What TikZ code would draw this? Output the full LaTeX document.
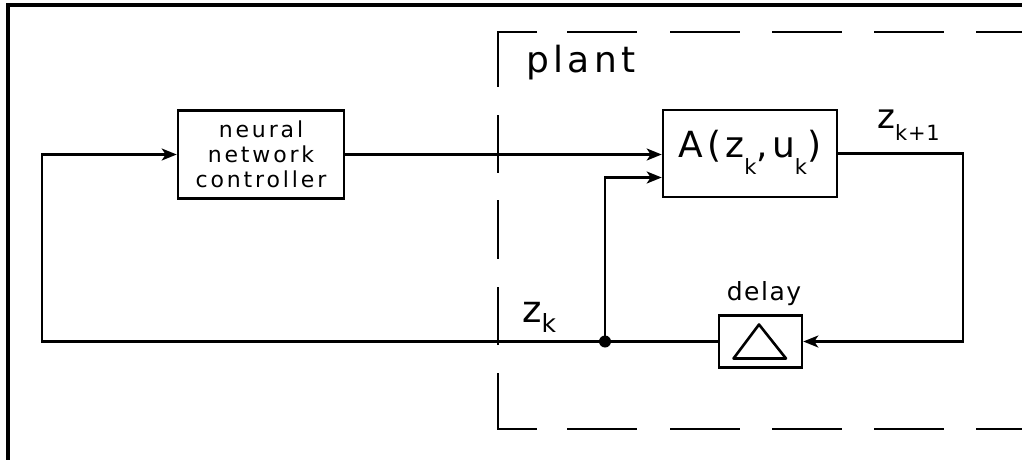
\documentclass[tikz,border=0pt]{standalone}
\usepackage{fontspec}
\usetikzlibrary{arrows.meta,calc}
\newfontfamily\pf{DejaVu Sans}
\newcommand\pfs[3]{\pf\addfontfeature{LetterSpace=#3}\fontsize{#1}{#2}\selectfont}
\newcommand\mysb[3]{\raisebox{-#2}{\fontsize{#1}{#1}\selectfont #3}}
\begin{document}
\begin{tikzpicture}[x=1pt,y=-1pt,
  blk/.style={draw,line width=2.6pt,inner sep=0pt},
  conn/.style={line width=2.4pt},
  arr/.style={conn,-{Stealth[length=15pt,width=12pt,inset=4pt]}},
  frame/.style={line width=3.4pt},
  plantbox/.style={line width=2.5pt},
  lbl/.style={inner sep=0pt}]
\useasboundingbox (0,0) rectangle (1022,460);
% outer frame
\draw[frame] (8,460) -- (8,5) -- (1022,5);
% plant dashed boundary
\draw[plantbox] (537,32) -- (498,32) -- (498,87);
\draw[plantbox] (498,373) -- (498,429) -- (537,429);
\foreach \a/\b in {115/173,200/259,287/345} \draw[plantbox] (498,\a) -- (498,\b);
\foreach \a/\b in {567/637,670/740,772/842,874/944,976/1022} {
  \draw[plantbox] (\a,32) -- (\b,32);
  \draw[plantbox] (\a,429) -- (\b,429);
}
\node[lbl,anchor=base west,font=\pfs{36}{36}{12}] (plant) at (526,73) {plant};
% blocks
\node[blk,minimum width=166pt,minimum height=88pt,align=center,
      font=\pfs{22}{25}{13}] (nn) at (261,154.5)
      {neural\\network\\controller};
\node[blk,minimum width=174pt,minimum height=87pt,text height=25pt,text depth=18pt,
      font=\pfs{36}{36}{11}] (A) at (750,153.5)
      {A(z\mysb{21}{17pt}{k},u\mysb{21}{17pt}{k})};
\node[blk,minimum width=83pt,minimum height=52pt] (D) at (760.5,341.5) {};
\draw[line width=2.6pt,line join=round] ($(D.center)+(-1.5,-17)$) -- ($(D.center)+(-27,17)$) -- ($(D.center)+(25.5,17)$) -- cycle;
\node[lbl,anchor=base,font=\pfs{25}{25}{6}] (dl) at (764,300) {delay};
% coordinates
\coordinate (J) at (605,341.5);
\coordinate (L) at (42,341.5);
\coordinate (R) at (963,153.5);
% connectors
\draw[arr] (nn.east) -- (nn.east -| A.west);
\draw[arr] (J) |- ([yshift=-24pt]A.west);
\draw[arr] (A.east) -- (R) |- (D.east);
\draw[conn] (D.west) -- (J);
\draw[arr] (J) -- (L) |- (nn.west);
\fill (J) circle (6);
% labels
\node[lbl,anchor=base west,font=\pfs{37}{37}{6}] (zk) at (522,322) {z\mysb{25}{10pt}{k}};
\node[lbl,anchor=base west,font=\pfs{34}{34}{4}] (zk1) at (877,128) {z\mysb{21}{12pt}{k+1}};
\end{tikzpicture}
\end{document}
